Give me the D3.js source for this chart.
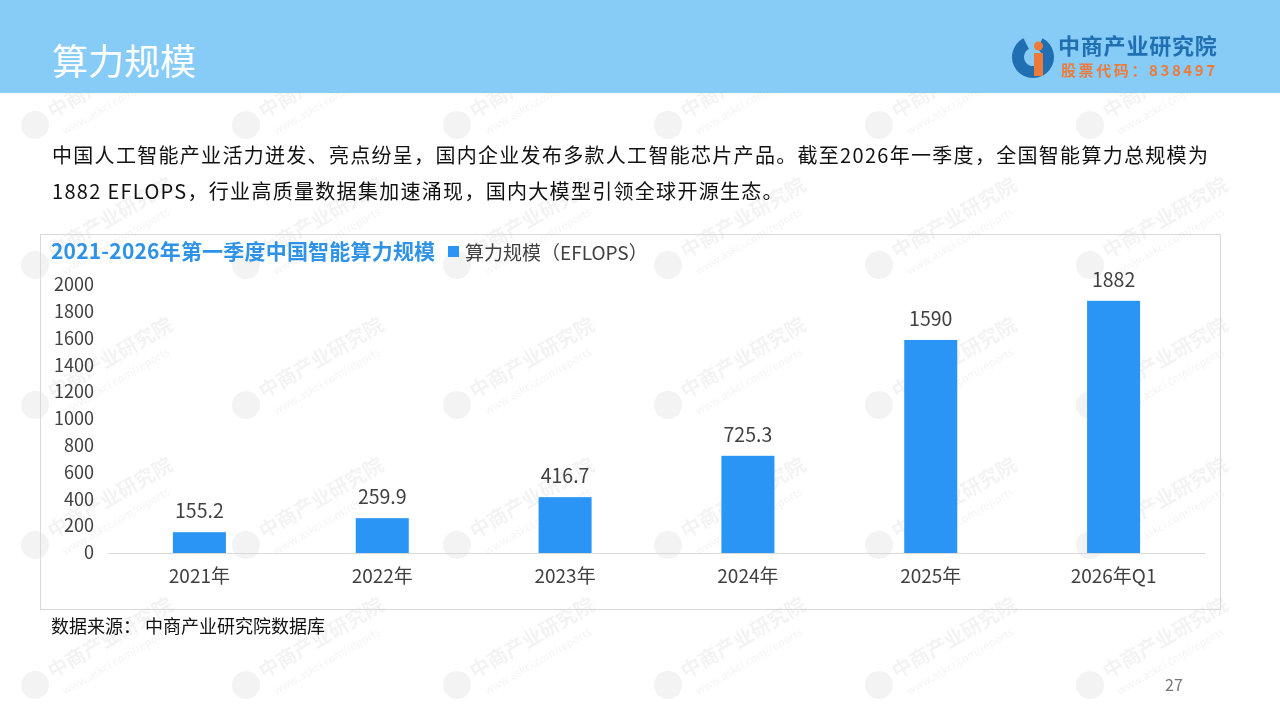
<!DOCTYPE html>
<html lang="zh">
<head>
	<meta charset="utf-8">
	<title>算力规模</title>
	<script src="https://d3js.org/d3.v7.min.js"></script>
	<style type="text/css">
		html, body { margin: 0; padding: 0; background: #fff; }
		svg { display: block; font-family: "Noto Sans CJK SC", "Noto Sans", sans-serif; }
		.axis path, .axis line { display: none; }
		.axis text { fill: #404040; font-family: "Noto Sans CJK SC", "Noto Sans", sans-serif; }
		.y.axis text { font-size: 18px; }
		.x.axis text { font-size: 19px; }
	</style>
</head>
<body>
<script type="text/javascript">

	// Chart data
	var categories = ["2021年", "2022年", "2023年", "2024年", "2025年", "2026年Q1"];
	var values = [155.2, 259.9, 416.7, 725.3, 1590, 1882];
	var valueLabels = ["155.2", "259.9", "416.7", "725.3", "1590", "1882"];
	var yTicks = [0, 200, 400, 600, 800, 1000, 1200, 1400, 1600, 1800, 2000];

	var W = 1280, H = 720;
	var svg = d3.select("body").append("svg")
		.attr("width", W)
		.attr("height", H);

	// Faint watermark grid
	var wm = svg.append("g").attr("opacity", 0.07);
	for (var r = 0; r < 5; r++) {
		for (var c = 0; c < 6; c++) {
			var g = wm.append("g")
				.attr("transform", "translate(" + (35 + c * 211) + "," + (125 + r * 140) + ")");
			g.append("circle").attr("r", 14).attr("fill", "#555");
			g.append("text")
				.attr("transform", "translate(18,-6) rotate(-30)")
				.attr("font-size", 20).attr("font-weight", "bold").attr("fill", "#555")
				.text("中商产业研究院");
			g.append("text")
				.attr("transform", "translate(30,10) rotate(-30)")
				.attr("font-size", 11).attr("fill", "#555")
				.text("www.askci.com/reports");
		}
	}

	// Header band
	svg.append("rect").attr("x", 0).attr("y", 0).attr("width", W).attr("height", 93)
		.attr("fill", "#87CBF7");
	svg.append("text").attr("x", 52).attr("y", 75)
		.attr("font-size", 36).attr("fill", "#fff")
		.text("算力规模");

	// Logo
	var logo = svg.append("g").attr("transform", "translate(1033,57)");
	logo.append("path")
		.attr("d", d3.arc()({innerRadius: 9, outerRadius: 21, startAngle: Math.PI * 0.15, endAngle: Math.PI * 1.85}))
		.attr("fill", "#1F6FB2");
	logo.append("rect").attr("x", 1).attr("y", -4).attr("width", 9).attr("height", 23).attr("fill", "#EE7A3A");
	logo.append("circle").attr("cx", 5.5).attr("cy", -11).attr("r", 4.5).attr("fill", "#EE7A3A");
	svg.append("text").attr("x", 1058).attr("y", 54)
		.attr("font-size", 22).attr("letter-spacing", 0.8).attr("font-weight", "bold").attr("fill", "#1F6FB2")
		.text("中商产业研究院");
	svg.append("text").attr("x", 1061).attr("y", 76)
		.attr("font-size", 15).attr("font-weight", "bold").attr("fill", "#EE7A3A")
		.attr("letter-spacing", 2.6)
		.text("股票代码：838497");

	// Description
	svg.append("text").attr("x", 52).attr("y", 163)
		.attr("font-size", 20).attr("letter-spacing", 1.3).attr("fill", "#111")
		.text("中国人工智能产业活力迸发、亮点纷呈，国内企业发布多款人工智能芯片产品。截至2026年一季度，全国智能算力总规模为");
	svg.append("text").attr("x", 52).attr("y", 199)
		.attr("font-size", 20).attr("letter-spacing", 1.3).attr("fill", "#111")
		.text("1882 EFLOPS，行业高质量数据集加速涌现，国内大模型引领全球开源生态。");

	// Chart frame
	svg.append("rect").attr("x", 40.5).attr("y", 234.5).attr("width", 1180).attr("height", 375)
		.attr("fill", "none").attr("stroke", "#d9d9d9");

	svg.append("text").attr("x", 51).attr("y", 259)
		.attr("font-size", 21).attr("letter-spacing", 0.2).attr("font-weight", "bold").attr("fill", "#2E92E6")
		.text("2021-2026年第一季度中国智能算力规模");

	// Legend
	svg.append("rect").attr("x", 448).attr("y", 246).attr("width", 11).attr("height", 11)
		.attr("fill", "#2B95F5");
	svg.append("text").attr("x", 465).attr("y", 260)
		.attr("font-size", 19).attr("fill", "#404040")
		.text("算力规模（EFLOPS）");

	// Scales
	var xScale = d3.scaleBand()
		.domain(categories)
		.range([108, 1205])
		.paddingInner(0.71)
		.paddingOuter(0.355);

	var yScale = d3.scaleLinear()
		.domain([0, 2000])
		.range([553, 285]);

	// Y axis
	svg.append("g")
		.attr("class", "y axis")
		.attr("transform", "translate(102,0)")
		.call(d3.axisLeft(yScale).tickValues(yTicks).tickSize(0).tickPadding(8).tickFormat(d3.format("d")));

	// Baseline
	svg.append("line")
		.attr("x1", 108).attr("x2", 1205)
		.attr("y1", yScale(0) + 0.5).attr("y2", yScale(0) + 0.5)
		.attr("stroke", "#d9d9d9");

	// Bars
	svg.selectAll("rect.bar")
		.data(values)
		.enter()
		.append("rect")
		.attr("class", "bar")
		.attr("x", function(d, i) { return xScale(categories[i]); })
		.attr("y", function(d) { return yScale(d); })
		.attr("width", xScale.bandwidth())
		.attr("height", function(d) { return yScale(0) - yScale(d); })
		.attr("fill", "#2B95F5");

	// Value labels
	svg.selectAll("text.val")
		.data(values)
		.enter()
		.append("text")
		.attr("class", "val")
		.attr("x", function(d, i) { return xScale(categories[i]) + xScale.bandwidth() / 2; })
		.attr("y", function(d) { return yScale(d) - 14; })
		.attr("text-anchor", "middle")
		.attr("font-size", 19.5)
		.attr("fill", "#404040")
		.text(function(d, i) { return valueLabels[i]; });

	// X axis
	svg.append("g")
		.attr("class", "x axis")
		.attr("transform", "translate(0," + yScale(0) + ")")
		.call(d3.axisBottom(xScale).tickSize(0).tickPadding(17));

	// Source and page number
	svg.append("text").attr("x", 51).attr("y", 633)
		.attr("font-size", 18).attr("fill", "#111")
		.text("数据来源： 中商产业研究院数据库");
	svg.append("text").attr("x", 1165).attr("y", 691)
		.attr("font-size", 16).attr("fill", "#777")
		.text("27");

</script>
</body>
</html>
